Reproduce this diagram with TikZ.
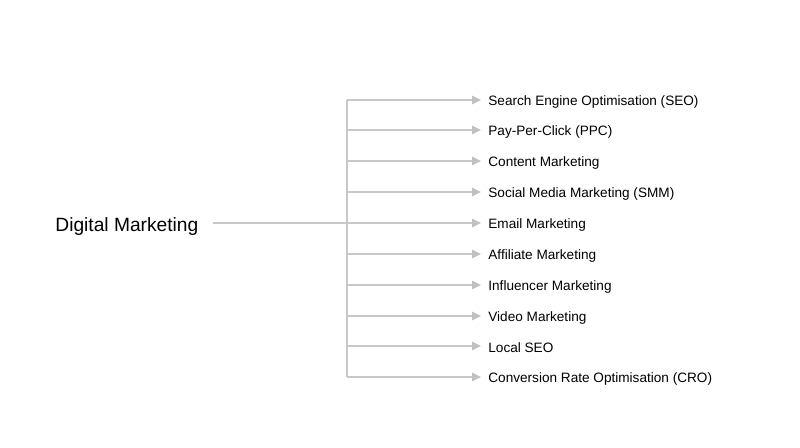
\documentclass[tikz,border=0pt]{standalone}
\usepackage{fontspec}
\setmainfont{Liberation Sans}
\usetikzlibrary{arrows.meta}
\definecolor{linegray}{HTML}{C8C8C8}
\definecolor{tipgray}{HTML}{C0C0C0}
\tikzset{
  root/.style={anchor=west, inner sep=0pt, yshift=-1.5pt, font=\fontsize{9.6}{11}\selectfont},
  item/.style={anchor=west, inner xsep=3.5pt, inner ysep=0pt, yshift=-1pt, font=\fontsize{6.8}{8}\selectfont},
  trunk/.style={draw=linegray, line width=0.65pt},
  branch/.style={draw=linegray, line width=0.65pt, -{Triangle[length=4.5pt,width=4.2pt,color=tipgray]}},
}
\begin{document}
\begin{tikzpicture}[x=0.5pt,y=-0.5pt]
      \useasboundingbox (0,0) rectangle (800,448);
      \node[root] (dm) at (55,224) {Digital Marketing};
      \coordinate (start) at (213,223);
      \draw
        (481,100) node[item] (seo){Search Engine Optimisation (SEO)}
        (481,130) node[item] (ppc){Pay-Per-Click (PPC)}
        (481,161) node[item] (cm){Content Marketing}
        (481,192) node[item] (smm){Social Media Marketing (SMM)}
        (481,223) node[item] (em){Email Marketing}
        (481,254) node[item] (am){Affiliate Marketing}
        (481,285) node[item] (im){Influencer Marketing}
        (481,316) node[item] (vm){Video Marketing}
        (481,346) node[item] (lseo){Local SEO}
        (481,377) node[item] (cro){Conversion Rate Optimisation (CRO)};
      \path
        (347,100) coordinate (b0)
        (347,130) coordinate (b1)
        (347,161) coordinate (b2)
        (347,192) coordinate (b3)
        (347,223) coordinate (b4)
        (347,254) coordinate (b5)
        (347,285) coordinate (b6)
        (347,316) coordinate (b7)
        (347,346) coordinate (b8)
        (347,377) coordinate (b9);
      \draw[trunk] (b0) -- (b9);
      \draw[trunk] (start) -- (b4);
      \begin{scope}[branch]
        \draw (b0) -- (seo.west |- b0);
        \draw (b1) -- (ppc.west |- b1);
        \draw (b2) -- (cm.west |- b2);
        \draw (b3) -- (smm.west |- b3);
        \draw (b4) -- (em.west |- b4);
        \draw (b5) -- (am.west |- b5);
        \draw (b6) -- (im.west |- b6);
        \draw (b7) -- (vm.west |- b7);
        \draw (b8) -- (lseo.west |- b8);
        \draw (b9) -- (cro.west |- b9);
      \end{scope}
    \end{tikzpicture}
\end{document}
